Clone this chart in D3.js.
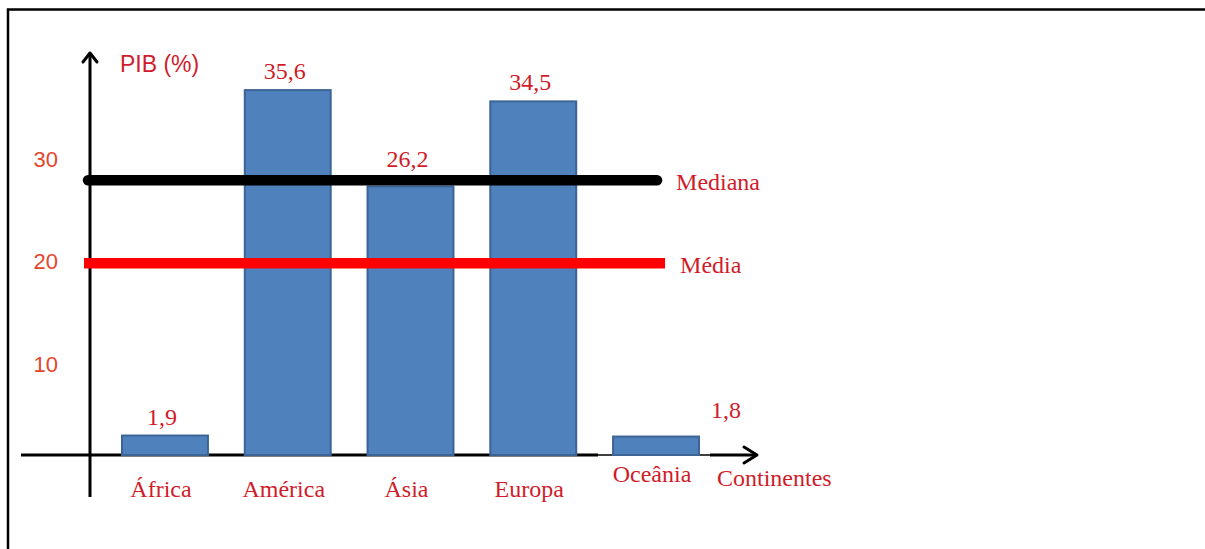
<!DOCTYPE html>
<html><head><meta charset="utf-8">
<script src="https://cdn.jsdelivr.net/npm/d3@7"></script>
<style>html,body{margin:0;padding:0;background:#fff;} svg{display:block}</style>
</head><body>
<svg id="chart" width="1205" height="549"></svg>
<script>
// ---- data ----
const categories = ["África", "América", "Ásia", "Europa", "Oceânia"];
const pibValues = [1.9, 35.6, 26.2, 34.5, 1.8];
const valueLabels = ["1,9", "35,6", "26,2", "34,5", "1,8"];
const yTickValues = [10, 20, 30];
const yTickLabels = ["10", "20", "30"];
const refLineNames = ["Mediana", "Média"];
const refLineValues = [26.8, 18.7];   // positions as drawn in the picture
const yAxisTitle = "PIB (%)";
const xAxisTitle = "Continentes";

// ---- styles ----
const SERIF = "'Liberation Serif', 'Times New Roman', serif";
const SANS = "'Liberation Sans', Arial, sans-serif";
const TEXT_RED = "#d01c2a";
const TICK_RED = "#e4462c";
const BAR_FILL = "#4F81BD";
const BAR_STROKE = "#3c6494";

const svg = d3.select("#chart");
const baseY = 455;
const y = d3.scaleLinear().domain([0, 40]).range([baseY, baseY - 410]);
const x = d3.scaleBand().domain(categories).range([103.6, 717.4])
  .paddingInner(0.3).paddingOuter(0.15);
const axisX = 90;

// frame (top + left edges)
svg.append("path").attr("d", "M8,549V9.5H1205")
  .attr("fill", "none").attr("stroke", "#000").attr("stroke-width", 2.5);

// y axis with arrow
svg.append("line").attr("x1", axisX).attr("x2", axisX).attr("y1", 497).attr("y2", 53)
  .attr("stroke", "#000").attr("stroke-width", 3);
svg.append("path").attr("d", `M${axisX - 7},62L${axisX},53L${axisX + 7},62`)
  .attr("fill", "none").attr("stroke", "#000").attr("stroke-width", 3)
  .attr("stroke-linecap", "round").attr("stroke-linejoin", "round");

// x axis with arrow
svg.append("line").attr("x1", 21).attr("x2", 598).attr("y1", baseY).attr("y2", baseY)
  .attr("stroke", "#000").attr("stroke-width", 3);
svg.append("line").attr("x1", 598).attr("x2", 712).attr("y1", baseY).attr("y2", baseY)
  .attr("stroke", "#000").attr("stroke-width", 1.6);
svg.append("line").attr("x1", 710).attr("x2", 756).attr("y1", baseY).attr("y2", baseY)
  .attr("stroke", "#000").attr("stroke-width", 3);
svg.append("path").attr("d", `M744,447L757,${baseY}L744,463`)
  .attr("fill", "none").attr("stroke", "#000").attr("stroke-width", 3)
  .attr("stroke-linecap", "round").attr("stroke-linejoin", "round");

// y tick labels (no tick marks)
svg.append("g").selectAll("text").data(yTickValues).join("text")
  .attr("x", 58).attr("y", d => y(d) + 19)
  .attr("text-anchor", "end")
  .attr("font-family", SANS).attr("font-size", 22).attr("fill", TICK_RED)
  .text((d, i) => yTickLabels[i]);

// axis titles
svg.append("text").attr("x", 120).attr("y", 71.5)
  .attr("font-family", SANS).attr("font-size", 23).attr("fill", TEXT_RED)
  .text(yAxisTitle);
svg.append("text").attr("x", 717).attr("y", 486)
  .attr("font-family", SERIF).attr("font-size", 24).attr("fill", TEXT_RED)
  .text(xAxisTitle);

// bars
const data = categories.map((c, i) => ({ cat: c, v: pibValues[i], label: valueLabels[i], i }));
svg.append("g").selectAll("rect").data(data).join("rect")
  .attr("x", d => x(d.cat))
  .attr("y", d => y(d.v))
  .attr("width", x.bandwidth())
  .attr("height", d => y(0) - y(d.v))
  .attr("fill", BAR_FILL).attr("stroke", BAR_STROKE).attr("stroke-width", 2);

// value labels (kept clear of the median line)
const last = categories.length - 1;
const medY = y(refLineValues[0]);
function labelY(d) {
  if (d.i === last) return y(d.v) - 19;
  const ly = y(d.v) - 11;
  return (ly > medY - 22 && ly - 16 < medY + 6) ? medY - 13 : ly;
}
svg.append("g").selectAll("text").data(data).join("text")
  .attr("x", d => d.i === last ? x(d.cat) + x.bandwidth() + 27 : x(d.cat) + x.bandwidth() / 2 - 3)
  .attr("y", labelY)
  .attr("text-anchor", "middle")
  .attr("font-family", SERIF).attr("font-size", 24).attr("fill", TEXT_RED)
  .text(d => d.label);

// category labels
svg.append("g").selectAll("text").data(data).join("text")
  .attr("x", d => x(d.cat) + x.bandwidth() / 2 - 4)
  .attr("y", d => d.i === last ? 482 : 497)
  .attr("text-anchor", "middle")
  .attr("font-family", SERIF).attr("font-size", 24).attr("fill", TEXT_RED)
  .text(d => d.cat);

// reference lines (Mediana black, Média red)
const refColors = ["#000000", "#ff0000"];
const refStart = [axisX - 2, axisX - 6];
const refEnd = [x("Oceânia") + 44, x("Oceânia") + 52];
const refs = refLineNames.map((n, i) => ({ n, v: refLineValues[i], i }));
const rg = svg.append("g");
rg.selectAll("line").data(refs).join("line")
  .attr("x1", d => refStart[d.i]).attr("x2", d => refEnd[d.i])
  .attr("y1", d => y(d.v)).attr("y2", d => y(d.v))
  .attr("stroke", d => refColors[d.i]).attr("stroke-width", 10.5)
  .attr("stroke-linecap", d => d.i === 0 ? "round" : "butt");
rg.selectAll("text").data(refs).join("text")
  .attr("x", d => refEnd[d.i] + (d.i === 0 ? 19 : 15))
  .attr("y", d => y(d.v) + 9.5)
  .attr("font-family", SERIF).attr("font-size", 24).attr("fill", TEXT_RED)
  .text(d => d.n);
</script>
</body></html>
